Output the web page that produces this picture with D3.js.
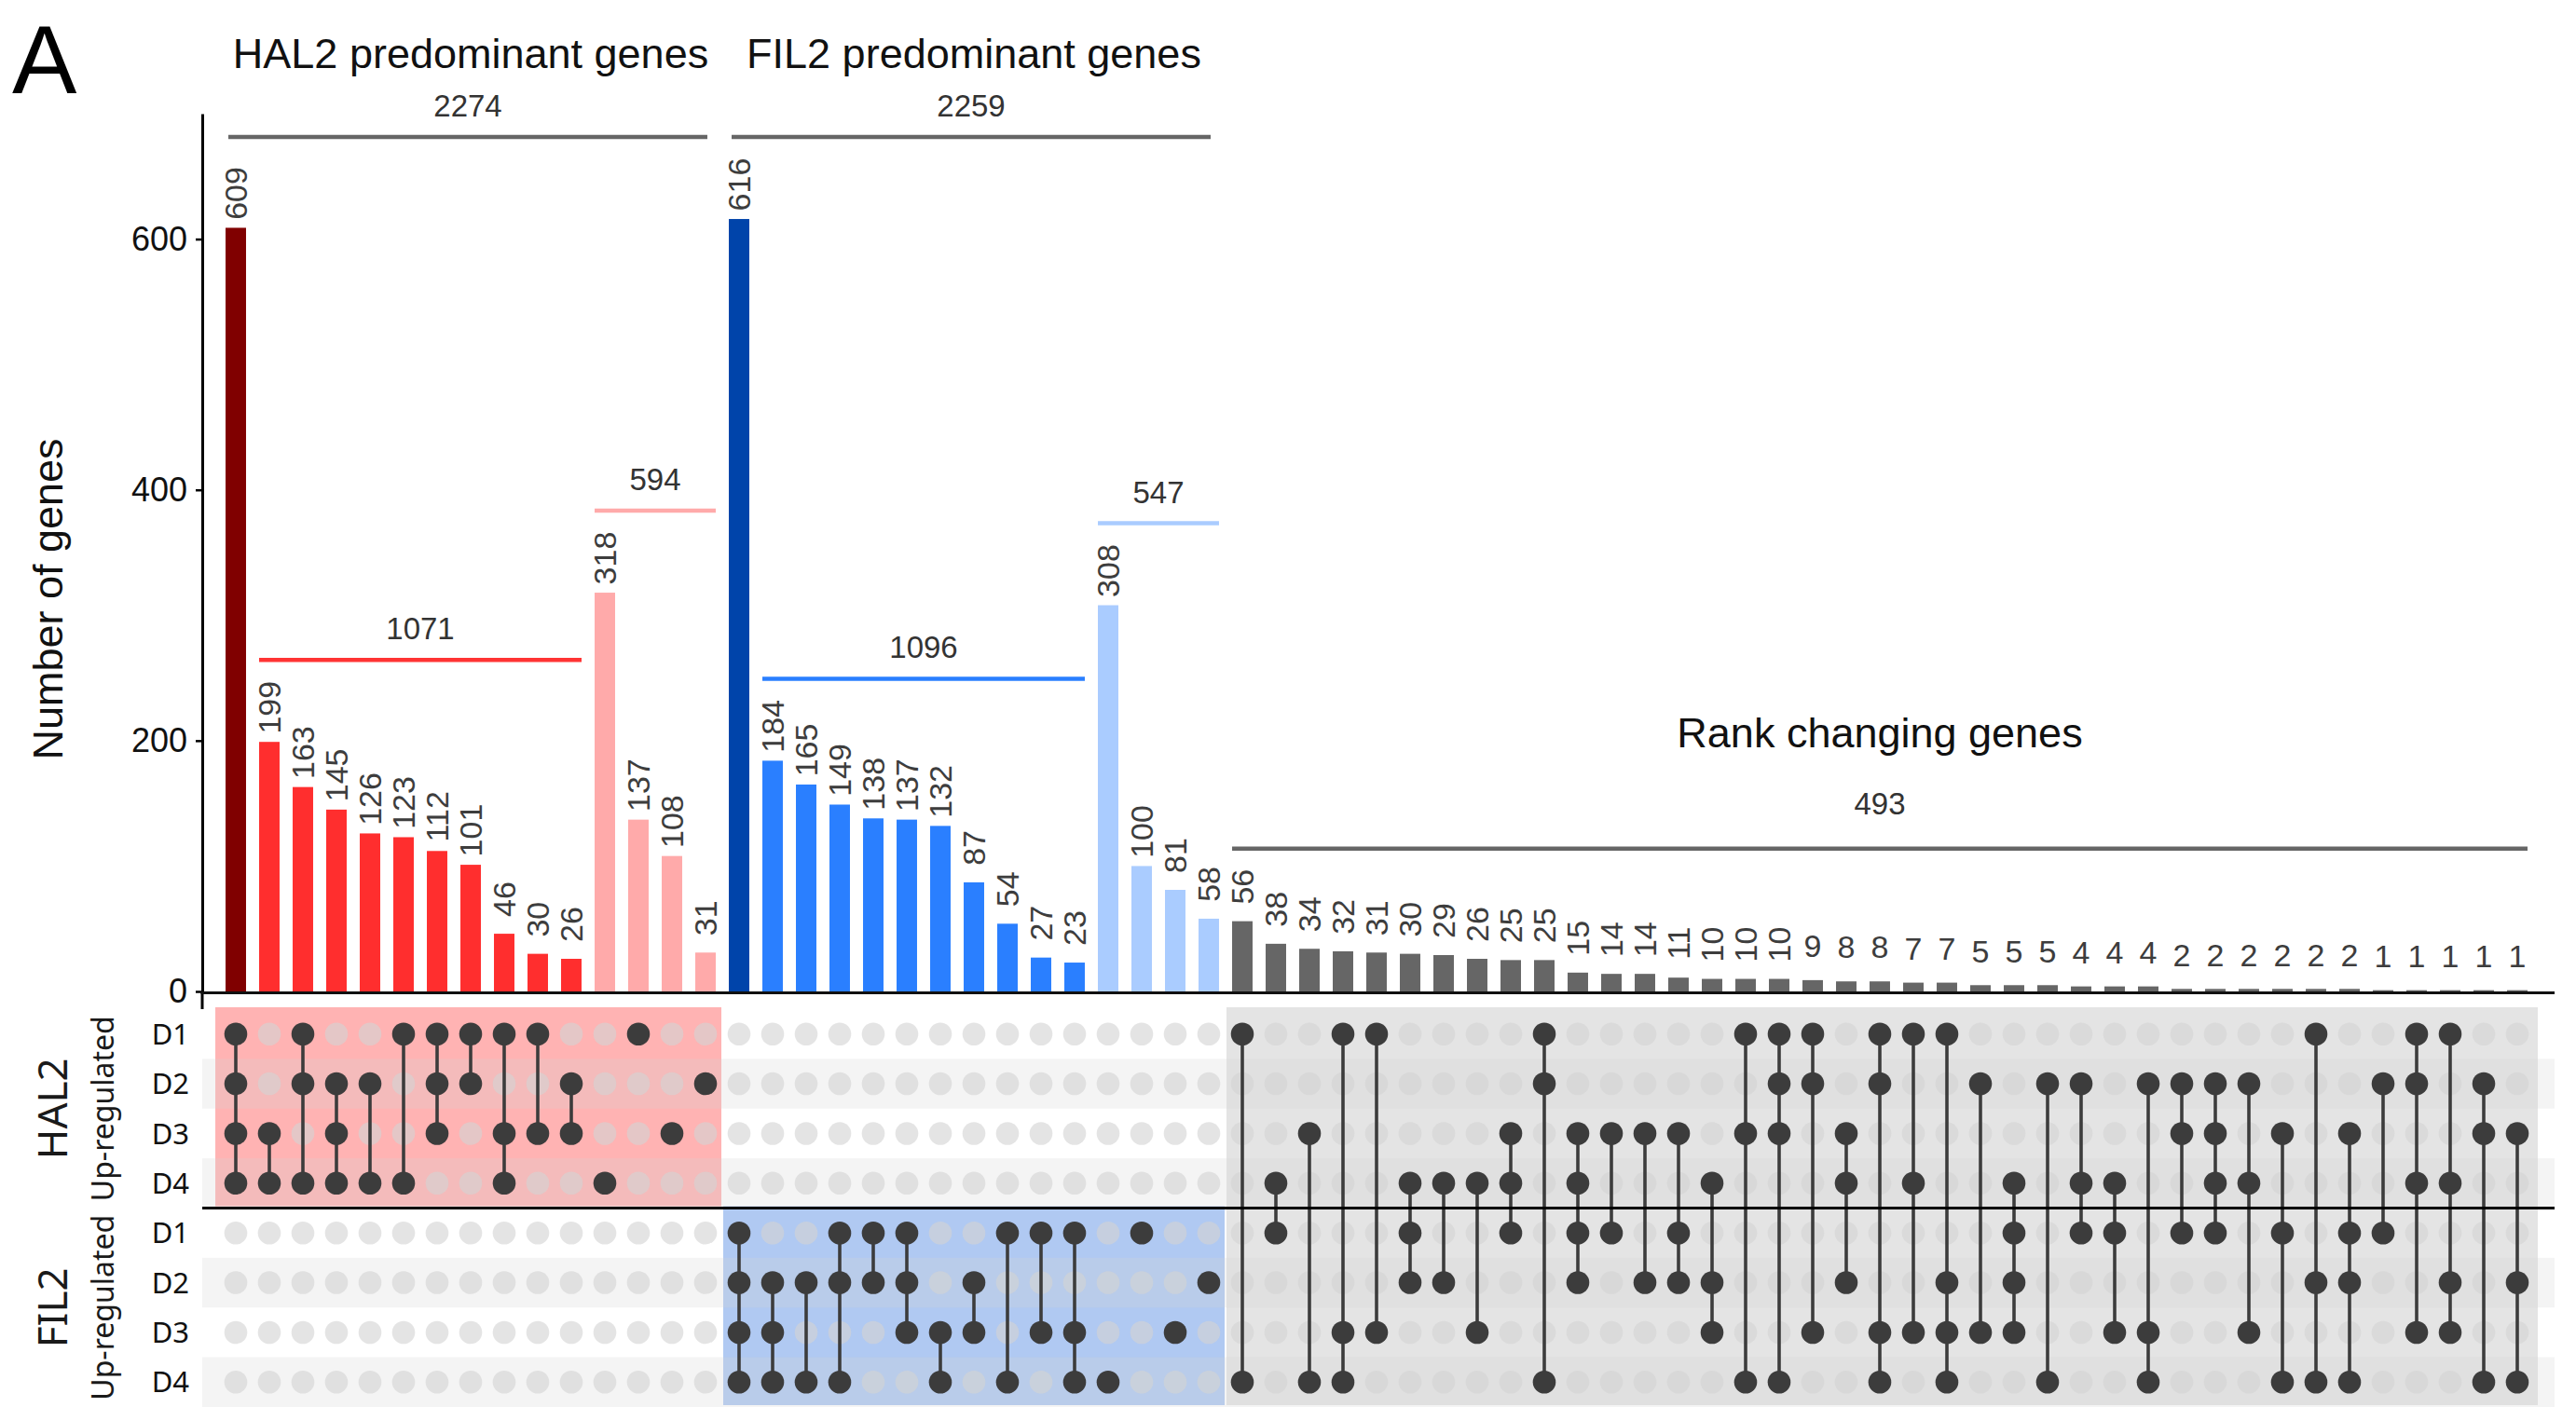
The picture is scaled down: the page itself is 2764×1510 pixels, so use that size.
<!DOCTYPE html>
<html>
<head>
<meta charset="utf-8">
<script src="https://cdn.jsdelivr.net/npm/d3@7"></script>
<style>
  body { margin: 0; background: #fff; }
  text { font-family: "Liberation Sans", Arial, sans-serif; }
  .side { font-family: "Noto Sans", sans-serif; }
</style>
</head>
<body>
<svg id="chart"></svg>
<script>
// ---- data -------------------------------------------------------------
var rowIds = ["H1", "H2", "H3", "H4", "F1", "F2", "F3", "F4"];
var rowLabels = ["D1", "D2", "D3", "D4", "D1", "D2", "D3", "D4"];
var yTicks = [0, 200, 400, 600];

var hal2Counts = [609, 199, 163, 145, 126, 123, 112, 101, 46, 30, 26, 318, 137, 108, 31];
var hal2Sets = [
  ["H1", "H2", "H3", "H4"], ["H3", "H4"], ["H1", "H2", "H4"], ["H2", "H3", "H4"], ["H2", "H4"],
  ["H1", "H4"], ["H1", "H2", "H3"], ["H1", "H2"], ["H1", "H3", "H4"], ["H1", "H3"], ["H2", "H3"],
  ["H4"], ["H1"], ["H3"], ["H2"]
];

var fil2Counts = [616, 184, 165, 149, 138, 137, 132, 87, 54, 27, 23, 308, 100, 81, 58];
var fil2Sets = [
  ["F1", "F2", "F3", "F4"], ["F2", "F3", "F4"], ["F2", "F4"], ["F1", "F2", "F4"], ["F1", "F2"],
  ["F1", "F2", "F3"], ["F3", "F4"], ["F2", "F3"], ["F1", "F4"], ["F1", "F3"], ["F1", "F3", "F4"],
  ["F4"], ["F1"], ["F3"], ["F2"]
];

var rankCounts = [56, 38, 34, 32, 31, 30, 29, 26, 25, 25, 15, 14, 14, 11, 10, 10, 10, 9, 8, 8,
  7, 7, 5, 5, 5, 4, 4, 4, 2, 2, 2, 2, 2, 2, 1, 1, 1, 1, 1];
var rankSets = [
  ["H1", "F4"], ["H4", "F1"], ["H3", "F4"], ["H1", "F3", "F4"], ["H1", "F3"],
  ["H4", "F1", "F2"], ["H4", "F2"], ["H4", "F3"], ["H3", "H4", "F1"], ["H1", "H2", "F4"],
  ["H3", "H4", "F1", "F2"], ["H3", "F1"], ["H3", "F2"], ["H3", "F1", "F2"], ["H4", "F2", "F3"],
  ["H1", "H3", "F4"], ["H1", "H2", "H3", "F4"], ["H1", "H2", "F3"], ["H3", "H4", "F2"], ["H1", "H2", "F3", "F4"],
  ["H1", "H4", "F3"], ["H1", "F2", "F3", "F4"], ["H2", "F3"], ["H4", "F1", "F2", "F3"], ["H2", "F4"],
  ["H2", "H4", "F1"], ["H4", "F1", "F3"], ["H2", "F3", "F4"], ["H2", "H3", "F1"], ["H2", "H3", "H4", "F1"],
  ["H2", "H4", "F3"], ["H3", "F1", "F4"], ["H1", "F2", "F4"], ["H3", "F1", "F2", "F4"], ["H2", "F1"],
  ["H1", "H2", "H4", "F3"], ["H1", "H4", "F2", "F3"], ["H2", "H3", "F4"], ["H3", "F2", "F4"]
];

// ---- build columns ----------------------------------------------------
function kind(sets) {
  return sets.length === 4 ? "all" : (sets.length === 1 ? "single" : "multi");
}
var cols = [];
hal2Counts.forEach(function (v, i) { cols.push({group: "hal2", count: v, sets: hal2Sets[i], kind: kind(hal2Sets[i])}); });
fil2Counts.forEach(function (v, i) { cols.push({group: "fil2", count: v, sets: fil2Sets[i], kind: kind(fil2Sets[i])}); });
rankCounts.forEach(function (v, i) { cols.push({group: "rank", count: v, sets: rankSets[i], kind: "rank"}); });
cols.forEach(function (d, i) { d.i = i; });

var palette = {
  hal2: {all: "#800000", multi: "#ff2e2e", single: "#ffaaaa"},
  fil2: {all: "#0044aa", multi: "#2a7fff", single: "#aaccff"},
  rank: {rank: "#666666"}
};
var highlight = {hal2: "#ffb3b3", fil2: "#b0c9f2", rank: "#e4e4e4"};

var width = 2764, height = 1510;
var svg = d3.select("#chart").attr("width", width).attr("height", height);

var x = d3.scaleBand().domain(d3.range(cols.length))
  .range([235, 2719]).paddingInner(0.39).paddingOuter(0.195);
var cx = function (i) { return x(i) + x.bandwidth() / 2; };
var y = d3.scaleLinear().domain([0, 700]).range([1064, 122]);
var row = d3.scaleBand().domain(rowIds).range([1083, 1510]);
var rc = function (id) { return row(id) + row.bandwidth() / 2; };
var axisX = 217, rightX = 2741;

// ---- matrix backgrounds -----------------------------------------------
var step = x.step();
["hal2", "fil2", "rank"].forEach(function (g) {
  var idx = cols.filter(function (d) { return d.group === g; }).map(function (d) { return d.i; });
  var i0 = d3.min(idx), i1 = d3.max(idx);
  var left = i0 === 0 ? cx(i0) - 0.61 * step : cx(i0) - step / 2 + 1;
  var right = i1 === cols.length - 1 ? cx(i1) + 0.61 * step : cx(i1) + step / 2 - 1;
  var rws = g === "hal2" ? rowIds.slice(0, 4) : (g === "fil2" ? rowIds.slice(4) : rowIds);
  var top = row(rws[0]) - 2, bot = row(rws[rws.length - 1]) + row.bandwidth() - 2;
  svg.append("rect").attr("x", left).attr("y", top).attr("width", right - left)
    .attr("height", bot - top).attr("fill", highlight[g]);
});

svg.selectAll(".stripe").data(rowIds.filter(function (d, i) { return i % 2 === 1; }))
  .enter().append("rect").attr("class", "stripe")
  .attr("x", axisX).attr("width", rightX - axisX)
  .attr("y", function (d) { return row(d); }).attr("height", row.bandwidth())
  .attr("fill", "rgba(212,212,212,0.26)");

// ---- dots --------------------------------------------------------------
var dotR = 12.3, dark = "#3c3c3c";
var colG = svg.selectAll(".col").data(cols).enter().append("g").attr("class", "col");

colG.selectAll(".empty").data(function (d) {
  return rowIds.filter(function (r) { return d.sets.indexOf(r) < 0; }).map(function (r) { return {i: d.i, r: r}; });
}).enter().append("circle").attr("class", "empty")
  .attr("cx", function (d) { return cx(d.i); }).attr("cy", function (d) { return rc(d.r); })
  .attr("r", dotR).attr("fill", "rgba(212,212,212,0.62)");

colG.filter(function (d) { return d.sets.length > 1; }).append("line")
  .attr("x1", function (d) { return cx(d.i); }).attr("x2", function (d) { return cx(d.i); })
  .attr("y1", function (d) { return d3.min(d.sets, rc); })
  .attr("y2", function (d) { return d3.max(d.sets, rc); })
  .attr("stroke", dark).attr("stroke-width", 3.6);

colG.selectAll(".full").data(function (d) {
  return d.sets.map(function (r) { return {i: d.i, r: r}; });
}).enter().append("circle").attr("class", "full")
  .attr("cx", function (d) { return cx(d.i); }).attr("cy", function (d) { return rc(d.r); })
  .attr("r", dotR).attr("fill", dark);

svg.append("line").attr("x1", axisX).attr("x2", rightX)
  .attr("y1", row("F1")).attr("y2", row("F1"))
  .attr("stroke", "#000").attr("stroke-width", 3);

// ---- row labels --------------------------------------------------------
svg.selectAll(".rowlab").data(rowIds).enter().append("text")
  .attr("class", "side")
  .attr("x", 203).attr("y", function (d) { return rc(d); }).attr("dy", "0.36em")
  .attr("text-anchor", "end").attr("font-size", 31).attr("fill", "#111")
  .text(function (d, i) { return rowLabels[i]; });

[["HAL2", rowIds.slice(0, 4)], ["FIL2", rowIds.slice(4)]].forEach(function (p) {
  var mid = (row(p[1][0]) + row(p[1][3]) + row.bandwidth()) / 2;
  svg.append("text").attr("class", "side")
    .attr("transform", "translate(72," + mid + ") rotate(-90)")
    .attr("text-anchor", "middle").attr("font-size", 44).attr("fill", "#1a1a1a").text(p[0]);
  svg.append("text").attr("class", "side")
    .attr("transform", "translate(122," + mid + ") rotate(-90)")
    .attr("text-anchor", "middle").attr("font-size", 32).attr("fill", "#1a1a1a").text("Up-regulated");
});

// ---- bars --------------------------------------------------------------
svg.selectAll(".bar").data(cols).enter().append("rect").attr("class", "bar")
  .attr("x", function (d) { return x(d.i); }).attr("width", x.bandwidth())
  .attr("y", function (d) { return y(d.count); })
  .attr("height", function (d) { return y(0) - y(d.count); })
  .attr("fill", function (d) { return palette[d.group][d.kind]; });

svg.selectAll(".blab").data(cols).enter().append("text").attr("class", "blab")
  .attr("transform", function (d) {
    var t = "translate(" + cx(d.i) + "," + (y(d.count) - 37) + ")";
    return String(d.count).length > 1 ? t + " rotate(-90)" : t;
  })
  .attr("dy", "0.36em").attr("text-anchor", "middle")
  .attr("font-size", 34).attr("fill", "#3d3d3d")
  .text(function (d) { return d.count; });

// ---- axes --------------------------------------------------------------
var yAxis = d3.axisLeft(y).tickValues(yTicks).tickSize(7).tickSizeOuter(0).tickPadding(9);
var ag = svg.append("g").attr("transform", "translate(" + axisX + ",0)").call(yAxis);
ag.select(".domain").attr("stroke", "#000").attr("stroke-width", 3);
ag.selectAll(".tick line").attr("stroke", "#000").attr("stroke-width", 2.5);
ag.selectAll(".tick text").attr("font-size", 36).attr("fill", "#111")
  .attr("font-family", "Liberation Sans, Arial, sans-serif");
svg.append("line").attr("x1", axisX).attr("x2", axisX).attr("y1", y(0)).attr("y2", row("H1"))
  .attr("stroke", "#000").attr("stroke-width", 3);
svg.append("line").attr("x1", axisX - 1.5).attr("x2", rightX).attr("y1", y(0) + 1.5).attr("y2", y(0) + 1.5)
  .attr("stroke", "#111").attr("stroke-width", 3);

svg.append("text").attr("transform", "translate(67,643) rotate(-90)")
  .attr("text-anchor", "middle").attr("font-size", 45).attr("fill", "#111").text("Number of genes");

// ---- brackets & titles -------------------------------------------------
function idxOf(g, k) {
  return cols.filter(function (d) { return d.group === g && (!k || d.kind === k); });
}
var predMax = d3.max(cols.filter(function (d) { return d.group !== "rank"; }), function (d) { return d.count; });
var brackets = [
  {cols: idxOf("hal2"), color: "#666666", top: true},
  {cols: idxOf("fil2"), color: "#666666", top: true},
  {cols: idxOf("hal2", "multi"), color: "#ff3333"},
  {cols: idxOf("hal2", "single"), color: "#ffaaaa"},
  {cols: idxOf("fil2", "multi"), color: "#2a7fff"},
  {cols: idxOf("fil2", "single"), color: "#aaccff"},
  {cols: idxOf("rank"), color: "#666666", rank: true}
];
brackets.forEach(function (b) {
  var first = b.cols[0].i, last = b.cols[b.cols.length - 1].i;
  var x1 = x(first), x2 = x(last) + x.bandwidth();
  if (b.top) { x1 += 3; x2 -= 9; }   // the two outer brackets stop a little short
  var mx = b.top ? predMax : d3.max(b.cols, function (d) { return d.count; });
  var ly = y(mx) - (b.rank ? 78 : 88);
  svg.append("line").attr("x1", x1).attr("x2", x2).attr("y1", ly).attr("y2", ly)
    .attr("stroke", b.color).attr("stroke-width", 4.5);
  svg.append("text").attr("x", (x1 + x2) / 2).attr("y", ly - (b.rank ? 37 : 22))
    .attr("text-anchor", "middle").attr("font-size", 33).attr("fill", "#333")
    .text(d3.sum(b.cols, function (d) { return d.count; }));
});

var titles = [
  {g: "hal2", text: "HAL2 predominant genes", y: 73},
  {g: "fil2", text: "FIL2 predominant genes", y: 73},
  {g: "rank", text: "Rank changing genes", y: 802}
];
titles.forEach(function (t) {
  var c = idxOf(t.g);
  svg.append("text").attr("x", (cx(c[0].i) + cx(c[c.length - 1].i)) / 2).attr("y", t.y)
    .attr("text-anchor", "middle").attr("font-size", 45).attr("fill", "#111").text(t.text);
});

svg.append("text").attr("x", 13).attr("y", 100).attr("font-size", 104).attr("fill", "#000").text("A");
</script>
</body>
</html>
